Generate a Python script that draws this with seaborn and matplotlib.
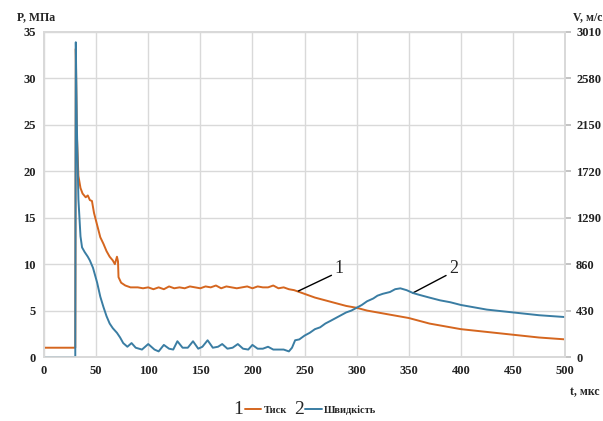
"""Pressure / velocity vs time, two y axes (recreation)."""

import matplotlib
matplotlib.use("Agg")
import matplotlib.pyplot as plt
import seaborn as sns
import pandas as pd
import numpy as np

# ---------------------------------------------------------------------------
# Data
# ---------------------------------------------------------------------------

# pressure P, MPa
t_p = [0, 30, 30.5, 31.5, 33, 35, 37, 40, 42, 44, 46, 48, 51, 54, 57, 60, 63,
       66, 68, 70, 71, 71.5, 74, 78, 83, 90, 95, 100, 105, 110, 115, 120, 125,
       130, 135, 140, 145, 150, 155, 160, 165, 170, 175, 180, 185, 190, 195,
       200, 205, 210, 215, 220, 225, 230, 235, 240, 245, 250, 260, 270, 280,
       290, 300, 310, 320, 330, 340, 350, 360, 370, 380, 390, 400, 425, 450,
       475, 500]
p_vals = [1.0, 1.0, 33.2, 24.0, 19.5, 18.2, 17.6, 17.2, 17.4, 16.9, 16.8, 15.5,
          14.2, 12.9, 12.2, 11.4, 10.8, 10.4, 10.0, 10.8, 10.3, 8.6, 8.0, 7.7,
          7.5, 7.5, 7.4, 7.5, 7.3, 7.5, 7.3, 7.6, 7.4, 7.5, 7.4, 7.6, 7.5, 7.4,
          7.6, 7.5, 7.7, 7.4, 7.6, 7.5, 7.4, 7.5, 7.6, 7.4, 7.6, 7.5, 7.5, 7.7,
          7.4, 7.5, 7.3, 7.2, 7.0, 6.8, 6.4, 6.1, 5.8, 5.5, 5.3, 5.0, 4.8, 4.6,
          4.4, 4.2, 3.9, 3.6, 3.4, 3.2, 3.0, 2.7, 2.4, 2.1, 1.9]

# velocity V, m/s
t_v = [0, 30, 30.5, 31.5, 33, 35, 36.5, 39, 42, 44, 47, 51, 54, 57, 60, 63, 66,
       70, 73, 76, 80, 84, 88, 94, 100, 106, 110, 115, 120, 124, 128, 133, 138,
       143, 148, 152, 157, 162, 167, 171, 176, 181, 186, 191, 196, 200, 205,
       210, 215, 220, 225, 230, 235, 238, 241, 245, 250, 255, 260, 265, 270,
       275, 280, 285, 290, 295, 300, 305, 310, 316, 320, 325, 332, 337, 342,
       348, 354, 360, 370, 380, 390, 400, 425, 450, 475, 500]
v_vals = [0, 0, 2915, 2150, 1462, 1118, 1015, 972, 929, 894, 826, 688, 559,
          464, 378, 310, 267, 224, 181, 129, 95, 129, 86, 69, 120, 69, 52, 112,
          77, 69, 146, 86, 86, 146, 77, 95, 155, 86, 95, 120, 77, 86, 120, 77,
          69, 112, 77, 77, 95, 69, 69, 69, 52, 86, 155, 163, 198, 224, 258, 275,
          310, 335, 361, 387, 413, 430, 456, 482, 516, 542, 568, 585, 602, 628,
          636, 619, 593, 576, 550, 525, 507, 482, 439, 413, 387, 370]

p_ticks = [0, 5, 10, 15, 20, 25, 30, 35]
v_ticks = [0, 430, 860, 1290, 1720, 2150, 2580, 3010]
t_ticks = [0, 50, 100, 150, 200, 250, 300, 350, 400, 450, 500]

ORANGE = "#D5661F"
BLUE = "#3A7DA3"
GRID = "#D9D9D9"

# ---------------------------------------------------------------------------
# Style
# ---------------------------------------------------------------------------

sns.set_theme(style="white")
plt.rcParams["font.family"] = ["Liberation Serif", "DejaVu Serif"]
plt.rcParams["font.weight"] = "bold"

df_p = pd.DataFrame({"t": t_p, "P": p_vals})
df_v = pd.DataFrame({"t": t_v, "V": v_vals})

fig = plt.figure(figsize=(6.03, 4.21), dpi=100)
ax = fig.add_axes([0.073, 0.152, 0.864, 0.772])
ax2 = ax.twinx()

sns.lineplot(data=df_p, x="t", y="P", ax=ax, color=ORANGE, lw=1.4,
             label="Тиск", legend=False)
sns.lineplot(data=df_v, x="t", y="V", ax=ax2, color=BLUE, lw=1.4,
             label="Швидкість", legend=False)

ax.set_xlim(0, 500)
ax.set_ylim(0, 35)
ax2.set_ylim(0, 3010)
ax.set_xticks(t_ticks)
ax.set_yticks(p_ticks)
ax2.set_yticks(v_ticks)
ax.set_xlabel("")
ax.set_ylabel("")
ax2.set_ylabel("")

ax.grid(True, color=GRID, lw=1.0)
ax.set_axisbelow(True)
ax2.grid(False)
for a in (ax, ax2):
    for s in a.spines.values():
        s.set_color(GRID)
ax.tick_params(axis="both", length=0, labelsize=9, colors="#222222", pad=6)
ax2.tick_params(axis="y", length=4, color="#BBBBBB", labelsize=9,
                colors="#222222", pad=4)

# axis titles
fig.text(0.028, 0.953, "P, МПа", fontsize=8.5, fontweight="bold", ha="left")
fig.text(0.950, 0.953, "V, м/с", fontsize=8.5, fontweight="bold", ha="left")
fig.text(0.995, 0.062, "t, мкс", fontsize=8.5, fontweight="bold", ha="right")

# leader lines with curve numbers
ax.annotate("1", xy=(244, 7.1), xytext=(279, 8.6), fontsize=13,
            fontweight="normal", va="bottom", ha="left",
            arrowprops=dict(arrowstyle="-", color="black", lw=1.0,
                            shrinkA=0, shrinkB=0,
                            relpos=(0, 0.2)))
ax.annotate("2", xy=(354, 6.9), xytext=(389, 8.6), fontsize=13,
            fontweight="normal", va="bottom", ha="left",
            arrowprops=dict(arrowstyle="-", color="black", lw=1.0,
                            shrinkA=0, shrinkB=0,
                            relpos=(0, 0.2)))

# legend below
h1, l1 = ax.get_legend_handles_labels()
h2, l2 = ax2.get_legend_handles_labels()
leg = fig.legend(h1 + h2, l1 + l2, loc="center", bbox_to_anchor=(0.515, 0.026),
                 ncol=2, frameon=False, fontsize=7.5, handlelength=1.6,
                 handletextpad=0.2, columnspacing=1.8)

fig.canvas.draw()
inv = fig.transFigure.inverted()
for num, handle in zip(["1", "2"], leg.legend_handles):
    bb = handle.get_window_extent(fig.canvas.get_renderer())
    x0, y0 = inv.transform((bb.x0, (bb.y0 + bb.y1) / 2))
    fig.text(x0 - 0.002, y0, num, fontsize=14, fontweight="normal",
             ha="right", va="center")

fig.savefig("out.png", dpi=100)
